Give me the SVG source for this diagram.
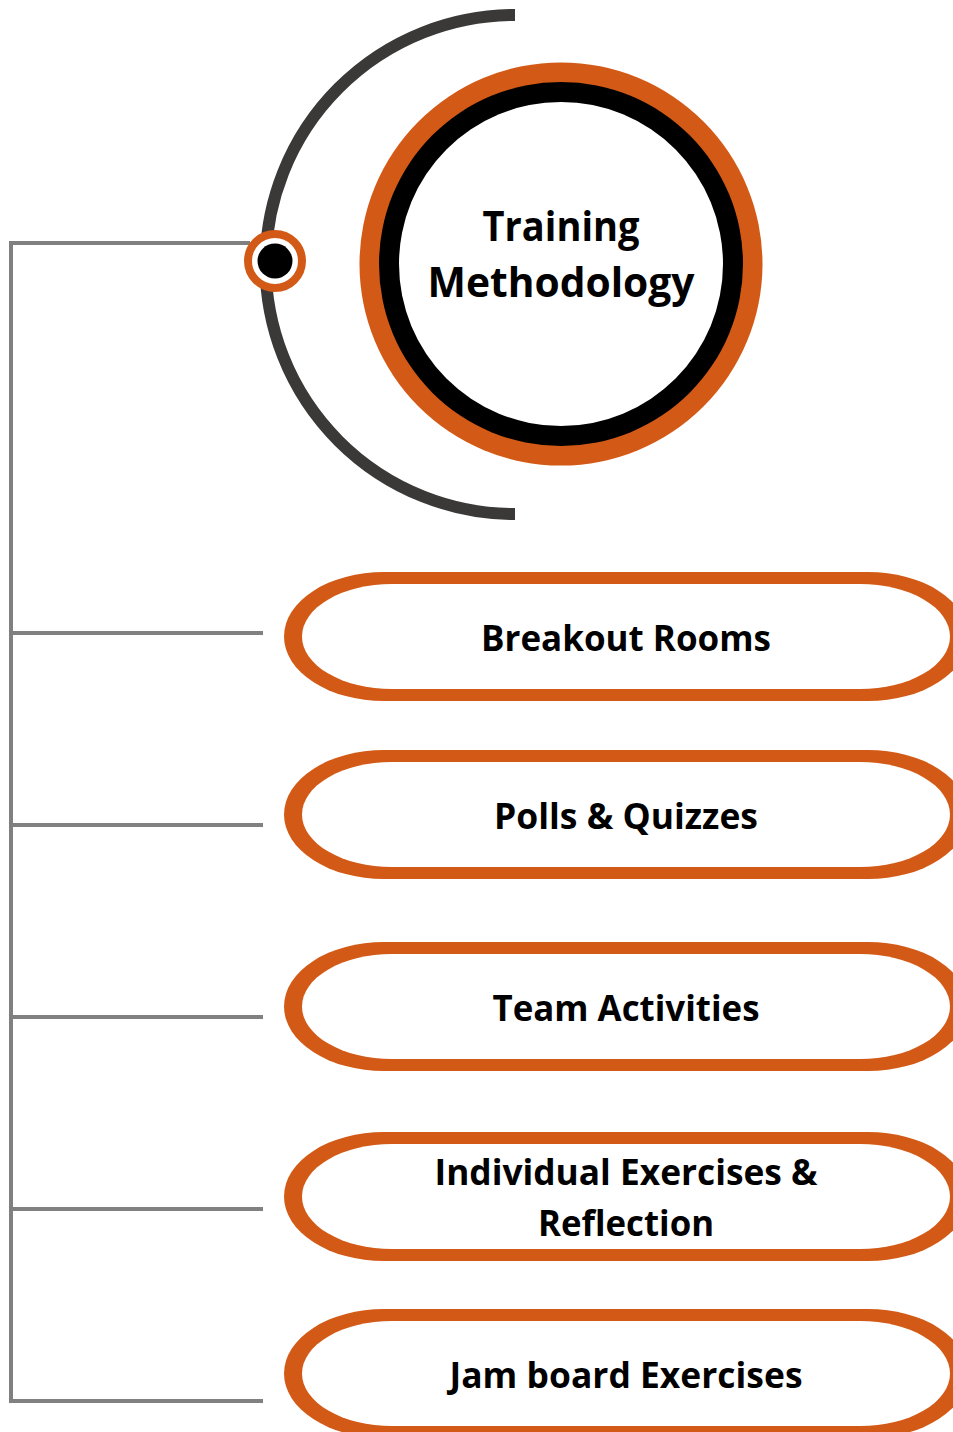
<svg xmlns="http://www.w3.org/2000/svg" width="953" height="1432" viewBox="0 0 953 1432">
<style>
.lbl{font-family:"Open Sans","Liberation Sans",sans-serif;font-weight:700;fill:#000;text-anchor:middle}
.pl{font-size:36px}
.ttl{font-size:42px}
.conn{stroke:#808080;stroke-width:4;fill:none}
.po{fill:#D35A16}
.pi{fill:#fff}
</style>
<rect width="953" height="1432" fill="#fff"/>
<g id="connectors">
<path class="conn" d="M250 243 H11 V1401 H263"/>
<path class="conn" d="M11 633 H263 M11 825 H263 M11 1017 H263 M11 1209 H263"/>
</g>
<g id="arc">
<path d="M515 15 A249 249 0 0 0 515 514" fill="none" stroke="#3B3838" stroke-width="12"/>
</g>
<g id="hub">
<circle cx="275" cy="261" r="27" fill="#fff" stroke="#D35A16" stroke-width="8"/>
<circle cx="275" cy="261" r="17.5" fill="#000"/>
</g>
<g id="training-methodology">
<circle cx="561" cy="264" r="201.5" fill="#D35A16"/>
<circle cx="561" cy="264" r="182" fill="#000"/>
<circle cx="561" cy="264" r="162" fill="#fff"/>
<text class="lbl ttl" x="561" y="241" textLength="157" lengthAdjust="spacingAndGlyphs">Training</text>
<text class="lbl ttl" x="561" y="297" textLength="267" lengthAdjust="spacingAndGlyphs">Methodology</text>
</g>
<g id="breakout-rooms">
<rect class="po" x="284" y="572" width="684" height="129" rx="100" ry="64.5"/>
<rect class="pi" x="302" y="584" width="648" height="105" rx="90" ry="52.5"/>
<text class="lbl pl" x="626" y="651" textLength="290" lengthAdjust="spacingAndGlyphs">Breakout Rooms</text>
</g>
<g id="polls-quizzes">
<rect class="po" x="284" y="750" width="684" height="129" rx="100" ry="64.5"/>
<rect class="pi" x="302" y="762" width="648" height="105" rx="90" ry="52.5"/>
<text class="lbl pl" x="626" y="829" textLength="264" lengthAdjust="spacingAndGlyphs">Polls &amp; Quizzes</text>
</g>
<g id="team-activities">
<rect class="po" x="284" y="942" width="684" height="129" rx="100" ry="64.5"/>
<rect class="pi" x="302" y="954" width="648" height="105" rx="90" ry="52.5"/>
<text class="lbl pl" x="626" y="1021" textLength="267" lengthAdjust="spacingAndGlyphs">Team Activities</text>
</g>
<g id="individual-exercises">
<rect class="po" x="284" y="1132" width="684" height="129" rx="100" ry="64.5"/>
<rect class="pi" x="302" y="1144" width="648" height="105" rx="90" ry="52.5"/>
<text class="lbl pl" x="626" y="1185" textLength="383" lengthAdjust="spacingAndGlyphs">Individual Exercises &amp;</text>
<text class="lbl pl" x="626" y="1236" textLength="176" lengthAdjust="spacingAndGlyphs">Reflection</text>
</g>
<g id="jam-board">
<rect class="po" x="284" y="1309" width="684" height="129" rx="100" ry="64.5"/>
<rect class="pi" x="302" y="1321" width="648" height="105" rx="90" ry="52.5"/>
<text class="lbl pl" x="626" y="1388" textLength="353" lengthAdjust="spacingAndGlyphs">Jam board Exercises</text>
</g>
</svg>
